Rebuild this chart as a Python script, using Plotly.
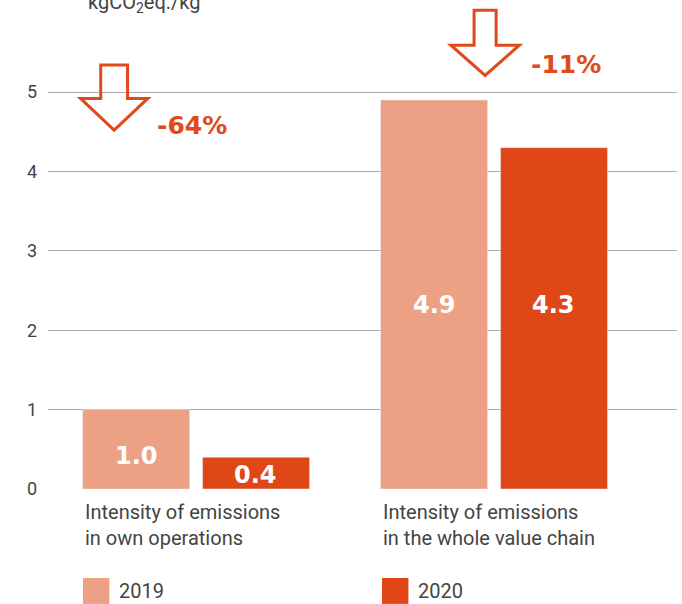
import plotly.graph_objects as go

categories = ["Intensity of emissions<br>in own operations",
              "Intensity of emissions<br>in the whole value chain"]
years = ["2019", "2020"]
values_2019 = [1.0, 4.9]
values_2020 = [0.4, 4.3]
changes = ["-64%", "-11%"]
unit = "kgCO<sub>2</sub>eq./kg"

light = "#EDA184"
dark = "#DF4716"
accent = "#E04A1A"
txt = "#444444"

x = [0, 1]

fig = go.Figure()
fig.add_trace(go.Bar(x=x, y=values_2019, name=years[0], marker_color=light, showlegend=False))
fig.add_trace(go.Bar(x=x, y=values_2020, name=years[1], marker_color=dark, showlegend=False))

# value labels inside the bars
label_y = {0: (0.41, 0.18), 1: (2.32, 2.32)}
for i in x:
    for j, vals in enumerate([values_2019, values_2020]):
        off = -0.201 if j == 0 else 0.201
        fig.add_annotation(x=i + off, y=label_y[i][j], text="<b>%.1f</b>" % vals[i],
                           showarrow=False,
                           font=dict(family="DejaVu Sans", size=24, color="white"))

# category labels under the groups
for i, c in enumerate(categories):
    fig.add_annotation(x=i - 0.378, y=0, yshift=-9, text=c, xanchor="left", yanchor="top",
                       align="left", showarrow=False,
                       font=dict(family="Roboto", size=20, color=txt))

# outlined down arrows with the change
arrows = [dict(cx=-0.275, top=5.34, neck=4.92, tip=4.52, sw=0.045, hw=0.113, lx=-0.138, ly=4.58),
          dict(cx=0.97, top=6.03, neck=5.59, tip=5.21, sw=0.037, hw=0.115, lx=1.118, ly=5.35)]
for a, ch in zip(arrows, changes):
    cx = a["cx"]
    path = ("M %f,%f L %f,%f L %f,%f L %f,%f L %f,%f L %f,%f L %f,%f Z" % (
        cx - a["sw"], a["top"], cx + a["sw"], a["top"], cx + a["sw"], a["neck"],
        cx + a["hw"], a["neck"], cx, a["tip"], cx - a["hw"], a["neck"], cx - a["sw"], a["neck"]))
    fig.add_shape(type="path", path=path, xref="x", yref="y",
                  line=dict(color=accent, width=3), fillcolor="rgba(0,0,0,0)")
    fig.add_annotation(x=a["lx"], y=a["ly"], text="<b>%s</b>" % ch,
                       xanchor="left", yanchor="middle", showarrow=False,
                       font=dict(family="DejaVu Sans", size=25, color=accent))

# unit title, partly cut off at the top edge
fig.add_annotation(x=0.06, y=1, xref="paper", yref="paper", yanchor="bottom", yshift=-18,
                   xanchor="left", text=unit, showarrow=False,
                   font=dict(family="Roboto", size=20, color=txt))

# legend drawn by hand
for xl, yr, col in [(0.0556, years[0], light), (0.531, years[1], dark)]:
    fig.add_shape(type="rect", xref="paper", yref="paper", x0=xl, x1=xl + 0.042,
                  y0=-0.235, y1=-0.182, fillcolor=col, line_width=0)
    fig.add_annotation(xref="paper", yref="paper", x=xl + 0.054, y=-0.209, text=yr,
                       xanchor="left", yanchor="middle", showarrow=False,
                       font=dict(family="Roboto", size=20, color=txt))

fig.update_layout(
    width=682, height=604,
    margin=dict(l=48, r=5, t=0, b=115, autoexpand=False),
    plot_bgcolor="white", paper_bgcolor="white",
    barmode="group", bargap=0.195, bargroupgap=0.108,
    xaxis=dict(range=[-0.497, 1.614], showticklabels=False, showgrid=False,
               zeroline=False, automargin=False),
    yaxis=dict(range=[0, 6.16], tickvals=[0, 1, 2, 3, 4, 5], showgrid=True,
               gridcolor="#AAAAAA", gridwidth=1, zeroline=False, automargin=False,
               tickfont=dict(family="Roboto", size=18, color=txt), ticks="", ticklabelstandoff=10),
)

# drop the page's default body margin so the 682x604 figure fills the window exactly
fig.write_html("out.html", config={"displayModeBar": False},
               post_script="document.body.style.margin='0';")
